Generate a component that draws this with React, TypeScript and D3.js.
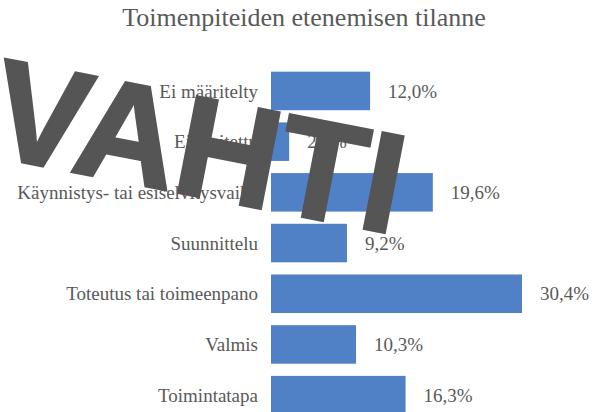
import React from "react";
import * as d3 from "d3";

const categories = [
  "Ei määritelty",
  "Ei aloitettu",
  "Käynnistys- tai esiselvitysvaihe",
  "Suunnittelu",
  "Toteutus tai toimeenpano",
  "Valmis",
  "Toimintatapa",
];
const values = [12.0, 2.2, 19.6, 9.2, 30.4, 10.3, 16.3];
const title = "Toimenpiteiden etenemisen tilanne";
const watermark = "VAHTI";

const W = 601;
const H = 412;

export default function App() {
  const x = d3.scaleLinear().domain([0, 35]).range([271, 560]);
  const y = d3
    .scaleBand<string>()
    .domain(categories)
    .range([65.6, 420.5])
    .paddingInner(0.24)
    .paddingOuter(0.12);
  const fmt = (v: number) => v.toFixed(1).replace(".", ",") + "%";
  const font = "'Liberation Serif', 'Times New Roman', serif";
  const textColor = "#595959";
  return (
    <svg
      width={W}
      height={H}
      style={{ position: "absolute", left: 0, top: 0, background: "#fff" }}
    >
      <rect width={W} height={H} fill="#fff" />
      <text
        x={304}
        y={26}
        textAnchor="middle"
        fontFamily={font}
        fontSize={26}
        fill={textColor}
      >
        {title}
      </text>
      {categories.map((c, i) => {
        const yy = y(c)!;
        const bh = y.bandwidth();
        return (
          <g key={c}>
            <rect
              x={x(0)}
              y={yy}
              width={x(values[i]) - x(0)}
              height={bh}
              fill="#5081c6"
            />
            <text
              x={258}
              y={yy + bh / 2}
              dy="0.35em"
              textAnchor="end"
              fontFamily={font}
              fontSize={19}
              fill={textColor}
            >
              {c}
            </text>
            <text
              x={x(values[i]) + 18}
              y={yy + bh / 2}
              dy="0.35em"
              textAnchor="start"
              fontFamily={font}
              fontSize={19}
              fill={textColor}
            >
              {fmt(values[i])}
            </text>
          </g>
        );
      })}
      <text
        transform="translate(-14,155) rotate(11)"
        fontFamily="'Liberation Sans', Arial, sans-serif"
        fontWeight="bold"
        fontSize={142}
        fill="#555555"
        stroke="#555555"
        strokeWidth={3}
        strokeLinejoin="miter"
      >
        {watermark}
      </text>
    </svg>
  );
}
